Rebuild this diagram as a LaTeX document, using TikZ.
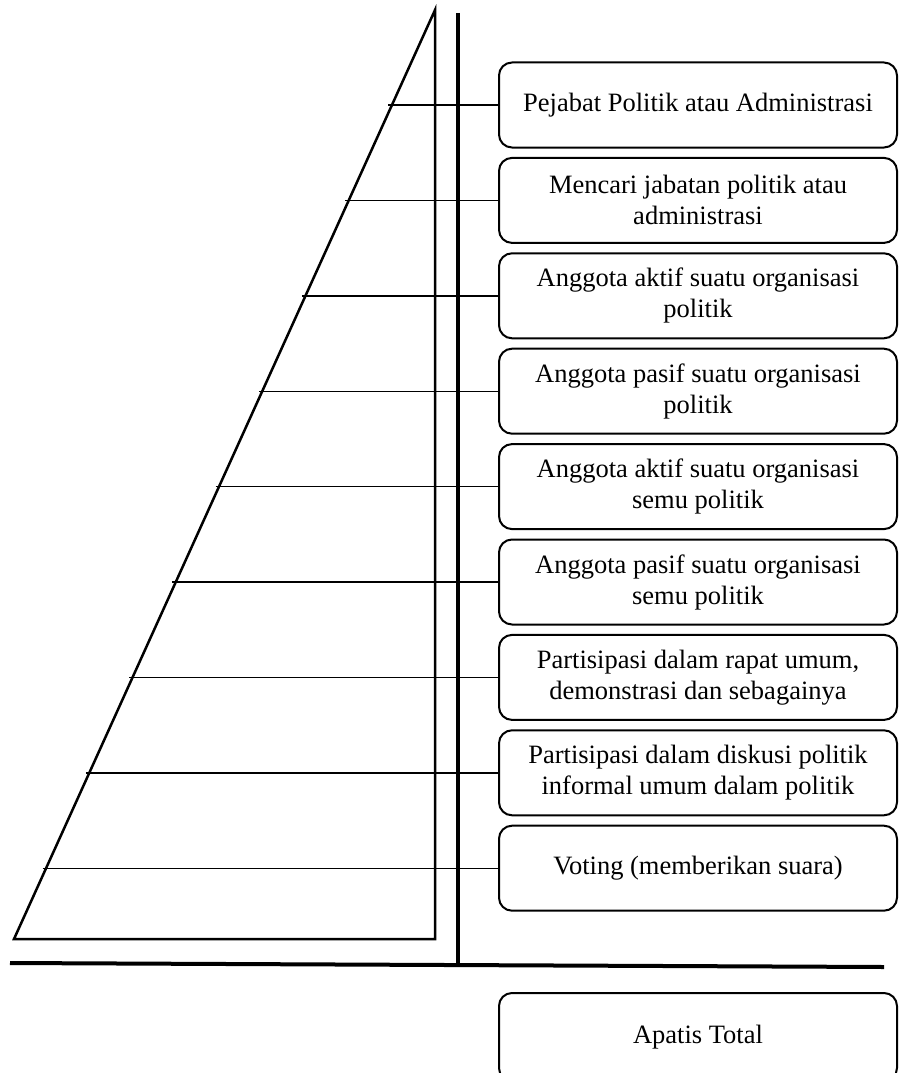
\documentclass[tikz,border=0pt]{standalone}
\usepackage{fontspec}
\setmainfont{Liberation Serif}
\usetikzlibrary{calc}
\begin{document}
\begin{tikzpicture}[x=1pt,y=-1pt,
  levelbox/.style={draw,line width=2pt,rounded corners=13pt,minimum width=398pt,minimum height=85pt,inner sep=0pt,align=center,font=\fontsize{26.5}{31}\selectfont},
  tri/.style={line width=2.5pt,line join=miter},
  axis/.style={line width=4pt},
  conn/.style={line width=1.4pt}]
\useasboundingbox (0,0) rectangle (898,1073);
\clip (0,0) rectangle (898,1073);
% pyramid
\coordinate (apex) at (435,10);
\coordinate (bl) at (14,939);
\coordinate (br) at (435,939);
\draw[tri] (apex) -- (bl) -- (br) -- cycle;
% axes
\coordinate (vtop) at (458,13);
\coordinate (vbot) at (458,965);
\draw[axis] (vtop) -- (vbot);
\coordinate (hl) at (10,963);
\coordinate (hr) at (884,967);
\draw[axis] (hl) -- (hr);
% boxes
\foreach \i/\t in {1/{Pejabat Politik atau Administrasi},
  2/{Mencari jabatan politik atau\\administrasi},
  3/{Anggota aktif suatu organisasi\\politik},
  4/{Anggota pasif suatu organisasi\\politik},
  5/{Anggota aktif suatu organisasi\\semu politik},
  6/{Anggota pasif suatu organisasi\\semu politik},
  7/{Partisipasi dalam rapat umum,\\demonstrasi dan sebagainya},
  8/{Partisipasi dalam diskusi politik\\informal umum dalam politik},
  9/{Voting (memberikan suara)}}{
  \pgfmathsetmacro{\yc}{105+(\i-1)*95.4}
  \pgfmathsetmacro{\xs}{435-(\yc-10)/929*421-3.5}
  \node[levelbox] (b\i) at (698,\yc) {\t};
  \coordinate (s\i) at (\xs,\yc);
  \draw[conn] (s\i) -- (b\i.west);
}
\node[levelbox,minimum height=88pt] (apatis) at (698,1037) {Apatis Total};
\end{tikzpicture}
\end{document}
